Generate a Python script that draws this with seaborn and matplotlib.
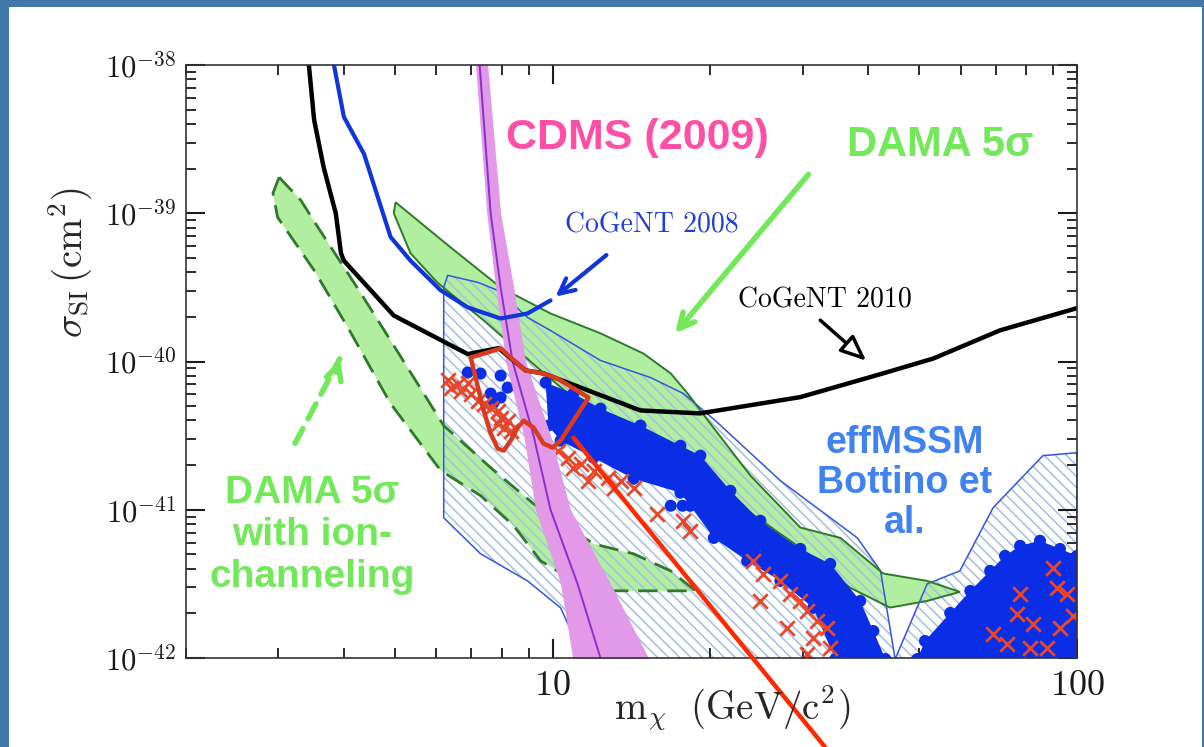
import numpy as np
import matplotlib
matplotlib.use("Agg")
import matplotlib.pyplot as plt
import seaborn as sns
from matplotlib.patches import Rectangle
from matplotlib.ticker import FixedLocator, FixedFormatter, NullFormatter

# ---------------------------------------------------------------------------
# Data: WIMP mass in GeV/c^2, log10 of the spin-independent cross-section (cm^2)
# ---------------------------------------------------------------------------
cogent2010_mass = [3.42, 3.43, 3.51, 3.66, 3.86, 3.95, 4.00, 4.98, 6.89, 7.89,
                   8.88, 9.61, 14.7, 19.1, 29.7, 42.7, 53.2, 71.3, 100.0]
cogent2010_logsig = [-37.9, -38.0, -38.37, -38.69, -39.0, -39.27, -39.32, -39.69,
                     -39.95, -39.91, -40.06, -40.08, -40.33, -40.35, -40.24,
                     -40.08, -39.98, -39.79, -39.64]

cogent2008_mass = [3.80, 3.83, 4.00, 4.37, 4.91, 5.36, 6.12, 6.89, 7.96, 8.96, 9.91]
cogent2008_logsig = [-37.9, -38.0, -38.35, -38.60, -39.16, -39.32, -39.52,
                     -39.635, -39.71, -39.676, -39.588]

cdms_logsig = [-37.9, -38.0, -39.0, -39.5, -40.0, -40.5, -41.0, -41.5, -42.0, -42.1]
cdms_low = [7.10, 7.13, 7.49, 7.79, 8.14, 8.81, 9.28, 10.36, 10.92, 11.0]
cdms_mid = [7.23, 7.26, 7.62, 7.96, 8.39, 9.20, 9.91, 11.16, 12.34, 12.6]
cdms_high = [7.49, 7.52, 7.96, 8.43, 8.88, 9.91, 10.82, 12.9, 15.24, 15.8]

dama_mass = [5.02, 6.39, 7.96, 9.91, 12.34, 14.9, 16.8, 18.1, 20.0, 23.84, 29.68,
             35.4, 42.7, 51.8, 59.8, 51.8, 44.0, 36.95, 29.68, 22.8, 17.53,
             12.34, 9.49, 7.39, 6.04, 5.36, 4.98]
dama_logsig = [-38.926, -39.23, -39.5, -39.676, -39.81, -39.946, -40.08, -40.216,
               -40.42, -40.77, -41.12, -41.19, -41.43, -41.48, -41.554, -41.615,
               -41.66, -41.527, -41.257, -40.973, -40.736, -40.4, -40.06,
               -39.723, -39.47, -39.27, -39.0]

dama_ch_mass = [3.01, 3.31, 3.57, 4.31, 4.91, 5.68, 6.20, 7.62, 9.20, 11.97, 14.27,
                16.78, 18.73, 16.06, 13.07, 10.82, 9.49, 8.43, 7.29, 6.12, 4.91,
                4.07, 3.51, 2.99, 2.93]
dama_ch_logsig = [-38.757, -38.912, -39.095, -39.54, -39.858, -40.216, -40.432,
                  -40.716, -40.96, -41.23, -41.297, -41.412, -41.547, -41.547,
                  -41.547, -41.466, -41.345, -41.108, -40.905, -40.736, -40.284,
                  -39.77, -39.385, -39.027, -38.865]

effmssm_mass = [6.20, 6.31, 7.20, 7.86, 8.96, 9.91, 12.34, 15.37, 17.76, 20.44,
                27.19, 38.1, 42.2, 45.0, 51.8, 59.8, 69.2, 86.1, 100.0, 100.0,
                11.81, 10.36, 8.96, 7.29, 6.20]
effmssm_logsig = [-39.5, -39.419, -39.466, -39.52, -39.703, -39.791, -39.993,
                  -40.108, -40.216, -40.399, -40.804, -41.189, -41.412, -42.007,
                  -41.5, -41.412, -40.986, -40.635, -40.615, -42.1, -42.1,
                  -41.662, -41.48, -41.297, -41.054]

cloud_main_mass = [9.70, 10.96, 12.34, 14.71, 17.53, 19.14, 21.83, 24.9, 29.68,
                   33.85, 38.6, 40.9, 43.1, 34.6, 31.4, 27.19, 23.5, 20.3, 18.3,
                   17.53, 14.27, 11.97, 10.36, 9.82]
cloud_main_logsig = [-40.142, -40.216, -40.318, -40.432, -40.568, -40.635, -40.872,
                     -41.074, -41.264, -41.365, -41.615, -41.818, -42.007, -42.007,
                     -41.662, -41.48, -41.345, -41.19, -40.973, -40.885, -40.791,
                     -40.649, -40.534, -40.432]

cloud_high_mass = [49.6, 51.3, 57.3, 62.6, 68.3, 72.9, 77.9, 85.0, 92.8, 100.0, 100.0]
cloud_high_logsig = [-42.007, -41.885, -41.696, -41.547, -41.412, -41.311, -41.243,
                     -41.209, -41.264, -41.311, -42.007]

blue_pts_mass = [6.89, 7.29, 7.96, 7.62, 7.96, 7.72, 8.21, 8.69, 16.8, 17.7, 20.9, 23.5]
blue_pts_logsig = [-40.074, -40.081, -40.095, -40.216, -40.243, -40.277, -40.176,
                   -40.162, -40.973, -40.973, -41.162, -41.189]

red_pts_mass = [6.31, 6.59, 6.89, 6.39, 6.68, 6.98, 7.20, 7.39, 7.62, 7.86, 7.96,
                8.21, 8.07, 7.86, 8.32,
                10.22, 10.68, 11.31, 11.97, 12.73, 13.48, 14.27, 11.66, 13.07,
                10.96, 15.85, 17.76, 18.3,
                24.15, 25.23, 27.19, 28.39, 29.68, 30.6, 31.97, 33.4, 31.42,
                33.85, 28.04, 30.6, 24.9,
                90.0, 91.6, 77.9, 76.9, 69.2, 73.6, 82.5, 92.8, 95.7, 81.4, 87.7, 98.3]
red_pts_logsig = [-40.128, -40.149, -40.142, -40.176, -40.196, -40.216, -40.264,
                  -40.284, -40.311, -40.331, -40.378, -40.399, -40.446, -40.419,
                  -40.466,
                  -40.601, -40.649, -40.689, -40.736, -40.784, -40.804, -40.851,
                  -40.804, -40.851, -40.716, -41.027, -41.074, -41.142,
                  -41.345, -41.432, -41.48, -41.568, -41.615, -41.682, -41.75,
                  -41.797, -41.865, -41.932, -41.797, -41.973, -41.615,
                  -41.392, -41.527, -41.568, -41.703, -41.838, -41.905, -41.77,
                  -41.797, -41.568, -41.932, -41.932, -41.716]

red_region_mass = [6.98, 7.96, 8.32, 8.88, 9.61, 10.22, 11.71, 10.96, 10.36, 10.0,
                   9.61, 9.20, 8.81, 8.58, 8.32, 8.07, 7.86, 7.62, 7.39]
red_region_logsig = [-39.973, -39.912, -39.973, -40.061, -40.081, -40.115, -40.243,
                     -40.399, -40.534, -40.581, -40.554, -40.446, -40.399, -40.446,
                     -40.534, -40.601, -40.588, -40.486, -40.331]

x_major = [10, 100]
x_major_labels = [r"$10$", r"$100$"]
y_major_exp = [-42, -41, -40, -39, -38]
y_major_labels = [r"$10^{-42}$", r"$10^{-41}$", r"$10^{-40}$", r"$10^{-39}$", r"$10^{-38}$"]


def sig(values):
    return 10.0 ** np.asarray(values, dtype=float)


# ---------------------------------------------------------------------------
# Style
# ---------------------------------------------------------------------------
sns.set_theme(style="ticks")
plt.rcParams.update({
    "font.family": ["Liberation Sans", "DejaVu Sans"],
    "mathtext.fontset": "cm",
    "hatch.linewidth": 1.1,
    "axes.axisbelow": False,
    "xtick.direction": "in",
    "ytick.direction": "in",
    "xtick.top": True,
    "xtick.bottom": True,
    "ytick.left": True,
    "ytick.right": True,
    "xtick.major.size": 14,
    "ytick.major.size": 14,
    "xtick.minor.size": 7,
    "ytick.minor.size": 7,
    "xtick.major.width": 1.5,
    "ytick.major.width": 1.5,
    "xtick.minor.width": 1.3,
    "ytick.minor.width": 1.3,
    "xtick.color": "#1a1a1a",
    "ytick.color": "#1a1a1a",
})

GREEN_FILL = "#b2ee9f"
GREEN_EDGE = "#2f7a2a"
HATCH_BLUE = "#a3bfdd"
OUTLINE_BLUE = "#3355e0"
DOT_BLUE = "#0a2ee6"
CROSS_RED = "#e8472c"
CDMS_FILL = "#e29ae8"
CDMS_LINE = "#8a2fcc"

fig = plt.figure(figsize=(12.04, 7.47), dpi=100)
fig.patch.set_facecolor("#4177a9")
fig.add_artist(Rectangle((9 / 1204, 0), 1193 / 1204, 740 / 747,
                         transform=fig.transFigure, facecolor="white",
                         edgecolor="none", zorder=-1))

ax = fig.add_axes([186 / 1204, 1 - 658 / 747, 891 / 1204, 593 / 747])
ax.set_xscale("log")
ax.set_yscale("log")
ax.set_xlim(2, 100)
ax.set_ylim(1e-42, 1e-38)
ax.set_facecolor("white")

# DAMA regions
ax.fill(dama_ch_mass, sig(dama_ch_logsig), facecolor=GREEN_FILL, edgecolor="none", zorder=1)
ax.fill(dama_mass, sig(dama_logsig), facecolor=GREEN_FILL, edgecolor="none", zorder=1)

# effMSSM hatched allowed region
ax.fill(effmssm_mass, sig(effmssm_logsig), facecolor="none", edgecolor=HATCH_BLUE,
        hatch="\\\\\\", linewidth=0, zorder=2)
ax.fill(effmssm_mass, sig(effmssm_logsig), facecolor="none", edgecolor=OUTLINE_BLUE,
        linewidth=1.1, zorder=2.1)

# DAMA contour outlines
ax.fill(dama_ch_mass, sig(dama_ch_logsig), facecolor="none", edgecolor=GREEN_EDGE,
        linewidth=2.0, linestyle=(0, (7, 3.5)), zorder=2.2)
ax.fill(dama_mass, sig(dama_logsig), facecolor="none", edgecolor=GREEN_EDGE,
        linewidth=1.4, zorder=2.2)

# effMSSM model points
ax.fill(cloud_main_mass, sig(cloud_main_logsig), color=DOT_BLUE, linewidth=0, zorder=3)
ax.fill(cloud_high_mass, sig(cloud_high_logsig), color=DOT_BLUE, linewidth=0, zorder=3)
sns.scatterplot(x=cloud_main_mass + cloud_high_mass + blue_pts_mass,
                y=sig(cloud_main_logsig + cloud_high_logsig + blue_pts_logsig),
                s=75, color=DOT_BLUE, edgecolor="none", ax=ax, zorder=3.1)
sns.scatterplot(x=red_pts_mass, y=sig(red_pts_logsig), marker="x", s=110,
                color=CROSS_RED, linewidth=2.0, ax=ax, zorder=3.5)

# CDMS 2009 band
ax.fill_betweenx(sig(cdms_logsig), cdms_low, cdms_high, color=CDMS_FILL,
                 linewidth=0, zorder=4)
sns.lineplot(x=cdms_mid, y=sig(cdms_logsig), color=CDMS_LINE, linewidth=1.4,
             sort=False, estimator=None, ax=ax, zorder=4.1)

# CoGeNT exclusion limits
sns.lineplot(x=cogent2008_mass, y=sig(cogent2008_logsig), color="#1035d8",
             linewidth=3.0, sort=False, estimator=None, ax=ax, zorder=5)
sns.lineplot(x=cogent2010_mass, y=sig(cogent2010_logsig), color="black",
             linewidth=3.2, sort=False, estimator=None, ax=ax, zorder=5)

# CoGeNT 2010 preferred region
ax.fill(red_region_mass, sig(red_region_logsig), facecolor="none", edgecolor="#d93a20",
        linewidth=3.2, joinstyle="round", zorder=5.5)

# ---------------------------------------------------------------------------
# Annotations
# ---------------------------------------------------------------------------
bold = dict(fontweight="bold", ha="center", va="center", zorder=7)
ax.text(14.52, sig(-38.493), "CDMS (2009)", color="#ff4fa6", fontsize=31, **bold)
ax.text(54.8, sig(-38.54), "DAMA 5σ", color="#72e85a", fontsize=30, **bold)
ax.text(47.0, sig(-40.818), "effMSSM\nBottino et\nal.", color="#3f82f0", fontsize=27,
        linespacing=1.15, **bold)
ax.text(3.48, sig(-41.17), "DAMA 5σ\nwith ion-\nchanneling", color="#72e85a",
        fontsize=28, linespacing=1.2, **bold)

ax.text(15.44, sig(-39.081), "CoGeNT 2008", color="#1f3fd0", fontsize=20,
        family="cmr10", ha="center", va="center", zorder=7)
ax.text(33.1, sig(-39.588), "CoGeNT 2010", color="black", fontsize=20,
        family="cmr10", ha="center", va="center", zorder=7)

ax.annotate("", xy=(10.04, sig(-39.574)), xytext=(12.79, sig(-39.27)),
            arrowprops=dict(arrowstyle="->,head_length=0.9,head_width=0.45",
                            color="#1035d8", lw=3), zorder=7)
ax.annotate("", xy=(40.0, sig(-40.007)), xytext=(32.1, sig(-39.709)),
            arrowprops=dict(arrowstyle="-|>,head_length=1.3,head_width=0.55",
                            fc="white", ec="black", lw=2.5), zorder=7)
ax.annotate("", xy=(17.0, sig(-39.824)), xytext=(31.0, sig(-38.723)),
            arrowprops=dict(arrowstyle="->,head_length=0.9,head_width=0.45",
                            color="#72e85a", lw=4), zorder=7)
ax.annotate("", xy=(3.95, sig(-39.966)), xytext=(3.21, sig(-40.568)),
            arrowprops=dict(arrowstyle="-", color="#72e85a", lw=4,
                            linestyle=(0, (3, 2))), zorder=7)
ax.annotate("", xy=(3.95, sig(-39.966)), xytext=(3.85, sig(-40.09)),
            arrowprops=dict(arrowstyle="->,head_length=0.9,head_width=0.45",
                            color="#72e85a", lw=4), zorder=7)

# pointer from the CoGeNT region down off the plot
ax.annotate("", xy=(10.96, sig(-40.514)), xycoords="data",
            xytext=(825 / 1204, 0.0), textcoords="figure fraction",
            arrowprops=dict(arrowstyle="-", color="#ff2a00", lw=3.2,
                            shrinkA=0, shrinkB=0),
            annotation_clip=False, zorder=8)

# ---------------------------------------------------------------------------
# Axes, ticks
# ---------------------------------------------------------------------------
ax.set_xlabel("")
ax.set_ylabel("")
ax.xaxis.set_major_locator(FixedLocator(x_major))
ax.xaxis.set_major_formatter(FixedFormatter(x_major_labels))
ax.xaxis.set_minor_locator(FixedLocator([m * d for d in (1, 10) for m in range(2, 10)]))
ax.xaxis.set_minor_formatter(NullFormatter())
ax.yaxis.set_major_locator(FixedLocator(sig(y_major_exp)))
ax.yaxis.set_major_formatter(FixedFormatter(y_major_labels))
ax.yaxis.set_minor_locator(FixedLocator([m * 10.0 ** e for e in range(-42, -38)
                                         for m in range(2, 10)]))
ax.yaxis.set_minor_formatter(NullFormatter())
ax.set_axisbelow(False)

ax.tick_params(which="both", direction="in", bottom=True, left=True, top=True,
               right=True, color="#1a1a1a")
ax.tick_params(which="major", length=14, width=1.5)
ax.tick_params(which="minor", length=7, width=1.3)
ax.tick_params(axis="x", which="major", labelsize=26, pad=7)
ax.tick_params(axis="y", which="major", labelsize=22, pad=7)
for s in ax.spines.values():
    s.set_color("#333333")
    s.set_linewidth(1.2)
    s.set_zorder(6)

fig.text(732 / 1204, 1 - 708 / 747, r"$\mathrm{m}_{\chi}\ \ \mathrm{(GeV/c^{2})}$",
         fontsize=28, ha="center", va="center")
fig.text(70 / 1204, 1 - 262 / 747, r"$\sigma_{\mathrm{SI}}\,\mathrm{(cm^{2})}$",
         fontsize=28, ha="center", va="center", rotation=90)

fig.savefig("out.png", dpi=100, facecolor=fig.get_facecolor())
